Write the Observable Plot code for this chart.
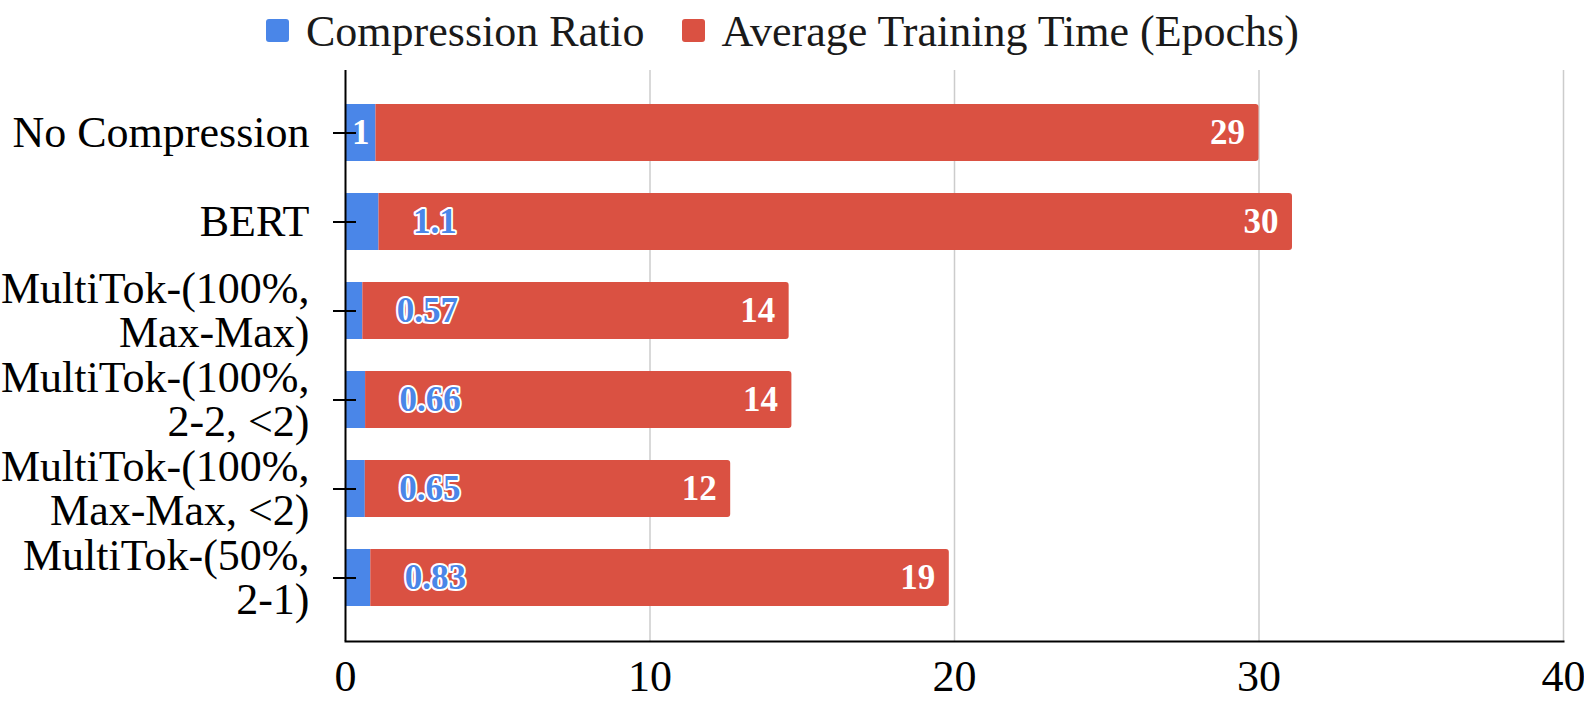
<!DOCTYPE html>
<html>
<head>
<meta charset="utf-8">
<script src="https://cdn.jsdelivr.net/npm/d3@7"></script>
<script src="https://cdn.jsdelivr.net/npm/@observablehq/plot@0.6"></script>
<style>
  body { margin: 0; background: #fff; font-family: "Liberation Serif", "Times New Roman", serif; }
  #legend { height: 60px; position: relative; display: flex; align-items: center; padding-left: 266px; box-sizing: border-box; font-size: 44px; color: #1a1a1a; }
  .item { display: flex; align-items: center; margin-right: 37px; }
  .sw { width: 23px; height: 23px; border-radius: 3px; margin-right: 17px; }
  #legend span.t { position: relative; top: 1px; }
</style>
</head>
<body>
<div id="legend"></div>
<div id="chart"></div>
<script>
const models = [
  "No Compression",
  "BERT",
  "MultiTok-(100%,\nMax-Max)",
  "MultiTok-(100%,\n2-2, <2)",
  "MultiTok-(100%,\nMax-Max, <2)",
  "MultiTok-(50%,\n2-1)"
];
const compressionRatio = [1, 1.1, 0.57, 0.66, 0.65, 0.83];
const trainingTime = [29, 30, 14, 14, 12, 19];
const seriesNames = ["Compression Ratio", "Average Training Time (Epochs)"];
const seriesColors = ["#4a86e8", "#da5142"];
const xTicks = [0, 10, 20, 30, 40];
const gridTicks = [10, 20, 30, 40];

const rows = models.map((m, i) => ({
  model: m,
  comp: compressionRatio[i],
  train: trainingTime[i],
  total: compressionRatio[i] + trainingTime[i]
}));

// legend
const legend = document.getElementById("legend");
seriesNames.forEach((s, i) => {
  const it = document.createElement("div");
  it.className = "item";
  const sw = document.createElement("div");
  sw.className = "sw";
  sw.style.background = seriesColors[i];
  const t = document.createElement("span");
  t.className = "t";
  t.textContent = s;
  it.appendChild(sw); it.appendChild(t);
  legend.appendChild(it);
});

const font = "Liberation Serif, Times New Roman, serif";
const fitsInside = d => String(d.comp).length === 1;

const chart = Plot.plot({
  width: 1584,
  height: 646,
  marginTop: 10,
  marginBottom: 65,
  marginLeft: 345,
  marginRight: 21,
  style: { fontFamily: font, fontSize: "44px", color: "#000", background: "#fff" },
  x: { domain: [0, 40], ticks: xTicks },
  y: { domain: models, paddingInner: 0.356, paddingOuter: 0.356, label: null },
  marks: [
    Plot.ruleX(gridTicks, { stroke: "#cccccc", strokeWidth: 1.5 }),
    Plot.barX(rows, { x1: 0, x2: "comp", y: "model", fill: seriesColors[0] }),
    Plot.barX(rows, { x1: "comp", x2: "total", y: "model", fill: seriesColors[1], rx2: 3 }),
    Plot.ruleX([0], { stroke: "#000", strokeWidth: 2 }),
    Plot.frame({ anchor: "bottom", stroke: "#000", strokeWidth: 2 }),
    Plot.axisX({ ticks: xTicks, tickSize: 0, tickPadding: 18, label: null, fontSize: 44, fill: "#000" }),
    Plot.axisY({ tickSize: 23, dx: 11, tickPadding: 24, strokeWidth: 2, stroke: "#000", label: null, fontSize: 44, fill: "#000", lineHeight: 1.0 }),
    Plot.text(rows.filter(fitsInside), {
      x: d => d.comp / 2, y: "model", text: d => String(d.comp),
      fill: "#fff", fontWeight: "bold", fontSize: 35, textAnchor: "middle"
    }),
    Plot.text(rows.filter(d => !fitsInside(d)), {
      x: "comp", y: "model", text: d => String(d.comp), dx: 34,
      fill: seriesColors[0], stroke: "#fff", strokeWidth: 4, paintOrder: "stroke",
      fontWeight: "bold", fontSize: 35, textAnchor: "start"
    }),
    Plot.text(rows, {
      x: "total", y: "model", text: d => String(d.train), dx: -14,
      fill: "#fff", fontWeight: "bold", fontSize: 35, textAnchor: "end"
    })
  ]
});
document.getElementById("chart").appendChild(chart);
</script>
</body>
</html>
